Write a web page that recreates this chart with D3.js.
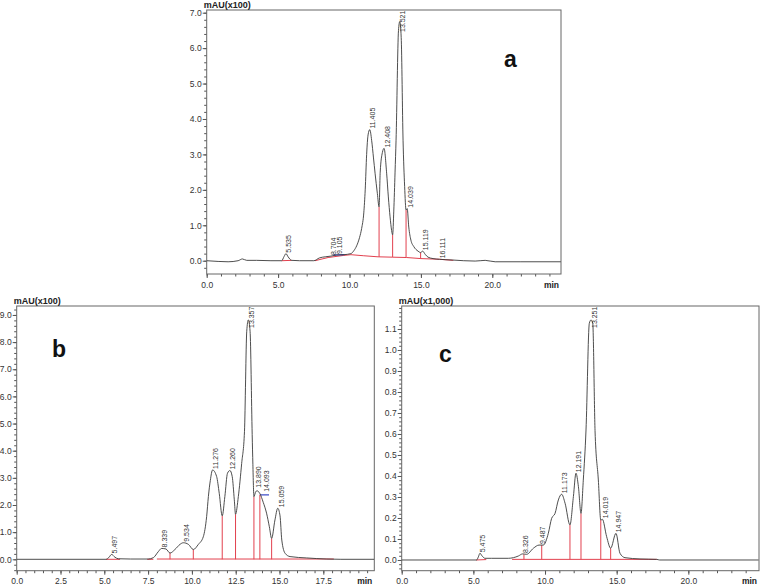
<!DOCTYPE html>
<html>
<head>
<meta charset="utf-8">
<script src="https://cdn.jsdelivr.net/npm/d3@7"></script>
<style>
body { margin: 0; background: #fff; }
svg { display: block; font-family: Arial, "Liberation Sans", sans-serif; }
</style>
</head>
<body>
<svg id="chart" width="761" height="586"></svg>
<script>
// ---- chromatogram a : [time (min), signal (x100 mAU)]
var traceA = [[0,0],[0.8,-0.02],[1.5,-0.03],[2.2,0],[2.5,0.05],[2.8,0.01],[3.5,0.01],[4.5,0],[5.25,0],
  [5.42,0.12],[5.55,0.2],[5.7,0.11],[5.95,0.01],[6.5,0],[7.5,0],[7.9,0.08],[8.3,0.11],[8.7,0.13],
  [9.1,0.16],[9.6,0.17],[10.1,0.2],[10.3,0.28],[10.5,0.42],[10.7,0.65],[10.85,0.91],[11.0,1.35],
  [11.1,2.0],[11.2,3.0],[11.3,3.55],[11.42,3.7],[11.55,3.4],[11.68,2.9],[11.79,2.47],[11.95,1.9],
  [12.07,1.52],[12.15,2.5],[12.3,3.05],[12.42,3.17],[12.6,2.47],[12.72,1.8],[12.84,1.24],[12.95,0.85],
  [13.02,0.73],[13.1,1.4],[13.19,2.5],[13.26,3.4],[13.43,6.5],[13.52,6.75],[13.62,6.3],[13.75,3.4],
  [13.86,2.1],[13.96,1.43],[14.04,1.47],[14.15,0.95],[14.3,0.58],[14.5,0.4],[14.8,0.27],[14.98,0.23],
  [15.12,0.27],[15.3,0.18],[15.5,0.1],[15.85,0.06],[16.3,0.04],[17.2,0.02],[18.0,0],[18.8,-0.01],
  [19.5,0.01],[20.2,-0.03],[22,-0.03],[24.8,-0.03]];
var peaksA = [[5.55,0.2,"5.535"],[8.7,0.13,"8.704"],[9.1,0.16,"9.105"],[11.42,3.7,"11.405"],
  [12.42,3.17,"12.408"],[13.52,6.75,"13.521"],[14.04,1.47,"14.039"],[15.12,0.27,"15.119"],[16.3,0.04,"16.111"]];
var redBaseA = [[[5.25,0],[5.95,0.01]],
  [[7.58,0],[8.5,0.09],[9.6,0.15],[10.1,0.17],[11,0.14],[12,0.11],[13,0.1],[14,0.09],[15,0.06],[16.3,0.04],[17.27,0.01]]];
var blueBaseA = [[[8.85,0.16],[9.65,0.17]]];
var dropsA = [[12.07,0.11,1.52],[13.02,0.1,0.73],[13.96,0.09,1.43],[14.98,0.06,0.23]];

// ---- chromatogram b : [time (min), signal (x100 mAU)]
var traceB = [[0,0],[5.1,0],[5.25,0.06],[5.42,0.18],[5.6,0.08],[5.8,0.02],[6.5,0.01],[7.5,0.01],
  [7.8,0.06],[8.08,0.28],[8.27,0.4],[8.52,0.38],[8.75,0.23],[9.03,0.36],[9.32,0.55],[9.51,0.61],
  [9.8,0.55],[10.08,0.36],[10.37,0.55],[10.65,0.83],[10.84,1.57],[10.94,2.31],[11.05,2.9],[11.18,3.29],
  [11.41,3.05],[11.56,2.43],[11.73,1.6],[11.88,2.31],[12.03,3.17],[12.17,3.27],[12.3,3.05],[12.42,2.19],
  [12.49,1.66],[12.65,2.31],[12.84,3.53],[13.0,4.7],[13.13,8.4],[13.22,8.82],[13.32,8.4],[13.44,4.6],
  [13.48,3.5],[13.54,2.31],[13.65,2.5],[13.73,2.52],[13.88,2.42],[14.07,2.1],[14.26,1.7],[14.42,1.2],
  [14.55,0.77],[14.74,1.45],[14.9,1.88],[15.03,1.6],[15.13,0.71],[15.32,0.22],[15.6,0.1],[16.55,0.05],
  [17.7,0.01],[18.5,0],[20.4,0]];
var peaksB = [[5.42,0.18,"5.497"],[8.27,0.4,"8.339"],[9.51,0.61,"9.534"],[11.17,3.29,"11.276"],
  [12.12,3.27,"12.260"],[13.22,8.82,"13.357"],[13.62,2.6,"13.890"],[14.07,2.45,"14.093"],[14.95,1.88,"15.059"]];
var redBaseB = [[[5.1,0],[5.9,0]],[[7.45,0],[7.8,0]],[[8.0,0.01],[18.1,0.01]]];
var blueBaseB = [[[13.88,2.37],[14.4,2.37]]];
var dropsB = [[8.75,0,0.23],[10.08,0,0.36],[11.73,0,1.6],[12.49,0,1.66],[13.54,0,2.31],[13.88,0,2.37],[14.55,0,0.77]];

// ---- chromatogram c : [time (min), signal (x1,000 mAU)]
var traceC = [[0,0],[5.23,0],[5.35,0.015],[5.46,0.032],[5.6,0.02],[5.81,0.008],[6.28,0.008],[7.44,0.008],
  [7.79,0.011],[8.14,0.019],[8.44,0.029],[8.72,0.027],[9.19,0.056],[9.58,0.071],[9.88,0.071],[10.23,0.127],
  [10.46,0.198],[10.7,0.222],[10.93,0.286],[11.16,0.313],[11.4,0.27],[11.74,0.167],[11.98,0.302],
  [12.16,0.413],[12.33,0.349],[12.51,0.222],[12.67,0.38],[12.86,0.619],[13.09,1.127],[13.21,1.143],
  [13.33,1.127],[13.49,0.616],[13.72,0.381],[13.89,0.19],[14.0,0.194],[14.3,0.111],[14.58,0.056],
  [14.95,0.127],[15.23,0.032],[15.58,0.011],[16.63,0.005],[17.79,0.003],[18.0,0],[24.9,0]];
var peaksC = [[5.46,0.032,"5.475"],[8.44,0.029,"8.326"],[9.6,0.071,"9.487"],[11.16,0.313,"11.173"],
  [12.16,0.413,"12.191"],[13.21,1.143,"13.251"],[14.0,0.194,"14.019"],[14.95,0.127,"14.947"]];
var redBaseC = [[[5.2,0],[5.9,0.002]],[[7.7,0.003],[17.8,0.003]]];
var blueBaseC = [];
var dropsC = [[8.53,0.003,0.027],[9.77,0.003,0.071],[11.74,0.003,0.167],[12.51,0.003,0.222],[13.89,0.003,0.19],[14.58,0.003,0.056]];

// tick labels
var xTicksA = [0,5,10,15,20], yTicksA = [0,1,2,3,4,5,6,7];
var xTicksB = [0,2.5,5,7.5,10,12.5,15,17.5], yTicksB = [0,1,2,3,4,5,6,7,8,9];
var xTicksC = [0,5,10,15,20], yTicksC = [0,0.1,0.2,0.3,0.4,0.5,0.6,0.7,0.8,0.9,1.0,1.1];

var svg = d3.select("#chart");
var RED = "#e2404e", BLUE = "#3f4fc8", INK = "#333";

function panel(p) {
    var x = d3.scaleLinear().domain(p.xDom).range([p.left, p.right]);
    var y = d3.scaleLinear().domain(p.yDom).range([p.bottom, p.top]);
    var g = svg.append("g");
    var fmt = d3.format(".1f");

    var clipId = "clip" + p.letter;
    svg.append("clipPath").attr("id", clipId).append("rect")
        .attr("x", p.left).attr("y", p.top)
        .attr("width", p.right - p.left).attr("height", p.bottom - p.top);

    // minor ticks
    g.append("g").attr("transform", "translate(0," + p.bottom + ")")
        .call(d3.axisBottom(x).tickValues(p.xMinor).tickSize(2.5).tickFormat(""))
        .call(function(a) { a.select(".domain").remove(); a.selectAll("line").attr("stroke", "#555"); });
    g.append("g").attr("transform", "translate(" + p.left + ",0)")
        .call(d3.axisLeft(y).tickValues(p.yMinor).tickSize(2.5).tickFormat(""))
        .call(function(a) { a.select(".domain").remove(); a.selectAll("line").attr("stroke", "#555"); });

    // major ticks
    g.append("g").attr("transform", "translate(0," + p.bottom + ")")
        .call(d3.axisBottom(x).tickValues(p.xTicks).tickSize(4).tickPadding(3.5).tickFormat(fmt))
        .call(function(a) {
            a.select(".domain").remove();
            a.selectAll("line").attr("stroke", "#555");
            a.selectAll("text").attr("fill", INK).style("font-size", "8.5px").style("font-family", "Arial, 'Liberation Sans', sans-serif");
        });
    g.append("g").attr("transform", "translate(" + p.left + ",0)")
        .call(d3.axisLeft(y).tickValues(p.yTicks).tickSize(4).tickPadding(1).tickFormat(fmt))
        .call(function(a) {
            a.select(".domain").remove();
            a.selectAll("line").attr("stroke", "#555");
            a.selectAll("text").attr("fill", INK).style("font-size", "8.5px").style("font-family", "Arial, 'Liberation Sans', sans-serif");
        });

    // frame
    g.append("rect")
        .attr("x", p.left).attr("y", p.top)
        .attr("width", p.right - p.left).attr("height", p.bottom - p.top)
        .attr("fill", "none").attr("stroke", "#666").attr("stroke-width", 1);

    var line = d3.line().x(function(d) { return x(d[0]); }).y(function(d) { return y(d[1]); });
    var plot = g.append("g").attr("clip-path", "url(#" + clipId + ")");

    // integration baselines
    plot.selectAll(".rb").data(p.red).enter().append("path")
        .attr("d", line).attr("fill", "none").attr("stroke", RED).attr("stroke-width", 1);
    plot.selectAll(".bb").data(p.blue).enter().append("path")
        .attr("d", line).attr("fill", "none").attr("stroke", BLUE).attr("stroke-width", 1.2);
    plot.selectAll(".drop").data(p.drops).enter().append("line")
        .attr("x1", function(d) { return x(d[0]); }).attr("x2", function(d) { return x(d[0]); })
        .attr("y1", function(d) { return y(d[1]); }).attr("y2", function(d) { return y(d[2]); })
        .attr("stroke", RED).attr("stroke-width", 1);

    // signal
    plot.append("path").datum(p.trace)
        .attr("d", line.curve(d3.curveMonotoneX))
        .attr("fill", "none").attr("stroke", "#3a3a3a").attr("stroke-width", 0.9);

    // peak labels
    g.selectAll(".pk").data(p.peaks).enter().append("text")
        .attr("transform", function(d) {
            var px = x(d[0]) + 5.5, py = Math.max(y(d[1]) - 1, p.top + 22);
            return "translate(" + px + "," + py + ") rotate(-90)";
        })
        .attr("fill", INK).style("font-size", "7px")
        .text(function(d) { return d[2]; });

    // unit, axis name, panel letter
    g.append("text").attr("x", p.left - 3).attr("y", p.top - 2.5)
        .attr("fill", "#222").style("font-size", "9px").style("font-weight", "bold").text(p.unit);
    g.append("text").attr("x", p.right - 2).attr("y", p.bottom + 13.5).attr("text-anchor", "end")
        .attr("fill", "#222").style("font-size", "8.5px").style("font-weight", "bold").text("min");
    g.append("text").attr("x", p.letterPos[0]).attr("y", p.letterPos[1])
        .attr("fill", "#111").style("font-size", "23px").style("font-weight", "bold").text(p.letter);
}

panel({letter: "a", unit: "mAU(x100)", left: 206.7, right: 561, top: 10, bottom: 274,
    xDom: [0, 24.81], yDom: [-0.375, 7.076], letterPos: [504, 67],
    xTicks: xTicksA, xMinor: d3.range(0, 25, 1), yTicks: yTicksA, yMinor: d3.range(-0.2, 7.05, 0.2),
    trace: traceA, peaks: peaksA, red: redBaseA, blue: blueBaseA, drops: dropsA});

panel({letter: "b", unit: "mAU(x100)", left: 16.7, right: 374.3, top: 306, bottom: 570.7,
    xDom: [0, 20.41], yDom: [-0.42, 9.33], letterPos: [52, 357],
    xTicks: xTicksB, xMinor: d3.range(0, 20.3, 0.5), yTicks: yTicksB, yMinor: d3.range(-0.4, 9.25, 0.2),
    trace: traceB, peaks: peaksB, red: redBaseB, blue: blueBaseB, drops: dropsB});

panel({letter: "c", unit: "mAU(x1,000)", left: 401.7, right: 759, top: 306, bottom: 570.7,
    xDom: [0, 24.93], yDom: [-0.051, 1.2095], letterPos: [439, 362],
    xTicks: xTicksC, xMinor: d3.range(0, 25, 1), yTicks: yTicksC, yMinor: d3.range(-0.04, 1.205, 0.02),
    trace: traceC, peaks: peaksC, red: redBaseC, blue: blueBaseC, drops: dropsC});
</script>
</body>
</html>
